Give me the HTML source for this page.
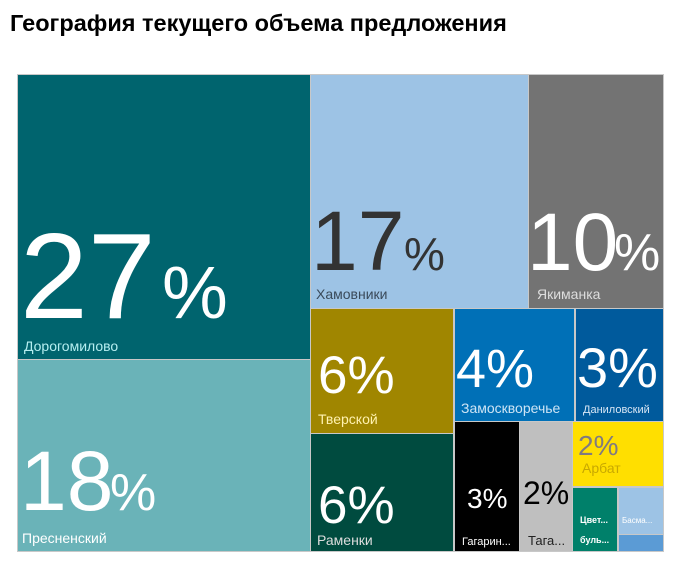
<!DOCTYPE html>
<html><head><meta charset="utf-8"><style>
body{margin:0;background:#fff;width:678px;height:574px;overflow:hidden}
svg{display:block;font-family:"Liberation Sans","DejaVu Sans",sans-serif}
</style></head><body>
<svg width="678" height="574" xmlns="http://www.w3.org/2000/svg">
<text x="10" y="31" font-size="23.5" font-weight="bold" fill="#000">География текущего объема предложения</text>
<rect x="17" y="74" width="647" height="478" fill="#c8c8c8"/>
<rect x="18" y="75" width="292" height="284" fill="#00646e"/>
<rect x="18" y="360" width="292" height="191" fill="#6ab3b8"/>
<rect x="311" y="75" width="217" height="233" fill="#9dc3e5"/>
<rect x="529" y="75" width="134" height="233" fill="#737373"/>
<rect x="311" y="309" width="142" height="124" fill="#a08600"/>
<rect x="311" y="434" width="142" height="117" fill="#004b3f"/>
<rect x="455" y="309" width="119" height="112" fill="#0070b7"/>
<rect x="576" y="309" width="87" height="112" fill="#005a9c"/>
<rect x="455" y="422" width="64" height="129" fill="#000"/>
<rect x="520" y="422" width="52" height="129" fill="#bfbfbf"/>
<rect x="573" y="422" width="90" height="64" fill="#ffdf00"/>
<rect x="573" y="488" width="44" height="63" fill="#00806a"/>
<rect x="619" y="488" width="44" height="46" fill="#9dc3e5"/>
<rect x="619" y="535" width="44" height="16" fill="#5b9bd5"/>

<text x="20" y="318" font-size="122" fill="#fff">27</text>
<text x="162" y="318" font-size="74" fill="#fff">%</text>
<text x="24" y="351" font-size="14" fill="#b5eef0">Дорогомилово</text>

<text x="20" y="510" font-size="84" fill="#fff">18</text>
<text x="110" y="510" font-size="52" fill="#fff">%</text>
<text x="22" y="543" font-size="14" fill="#fff">Пресненский</text>

<text x="311" y="270" font-size="84" fill="#333">17</text>
<text x="404" y="270" font-size="46" fill="#333">%</text>
<text x="316" y="299" font-size="14" fill="#3a4a5a">Хамовники</text>

<text x="527" y="270" font-size="82" fill="#fff">10</text>
<text x="614" y="270" font-size="52" fill="#fff">%</text>
<text x="537" y="299" font-size="14" fill="#ddd">Якиманка</text>

<text x="318" y="393" font-size="53" fill="#fff">6%</text>
<text x="318" y="424" font-size="14" fill="#fff2b0">Тверской</text>

<text x="318" y="523" font-size="53" fill="#fff">6%</text>
<text x="317" y="545" font-size="14" fill="#ddd">Раменки</text>

<text x="456" y="387" font-size="54" fill="#fff">4%</text>
<text x="461" y="413" font-size="14" fill="#cde4f5">Замоскворечье</text>

<text x="577" y="387" font-size="56" fill="#fff">3%</text>
<text x="583" y="413" font-size="11" fill="#d8e6f5">Даниловский</text>

<text x="467" y="508" font-size="28" fill="#fff">3%</text>
<text x="462" y="545" font-size="11" fill="#fff">Гагарин...</text>

<text x="523" y="504" font-size="32" fill="#000">2%</text>
<text x="528" y="545" font-size="13" fill="#222">Тага...</text>

<text x="578" y="455" font-size="28" fill="#807a80">2%</text>
<text x="582" y="473" font-size="14" fill="#c8a800">Арбат</text>

<text x="580" y="523" font-size="9" font-weight="bold" fill="#fff">Цвет...</text>
<text x="580" y="543" font-size="9" font-weight="bold" fill="#fff">буль...</text>
<text x="622" y="523" font-size="8" fill="#fff">Басма...</text>
</svg>
</body></html>
